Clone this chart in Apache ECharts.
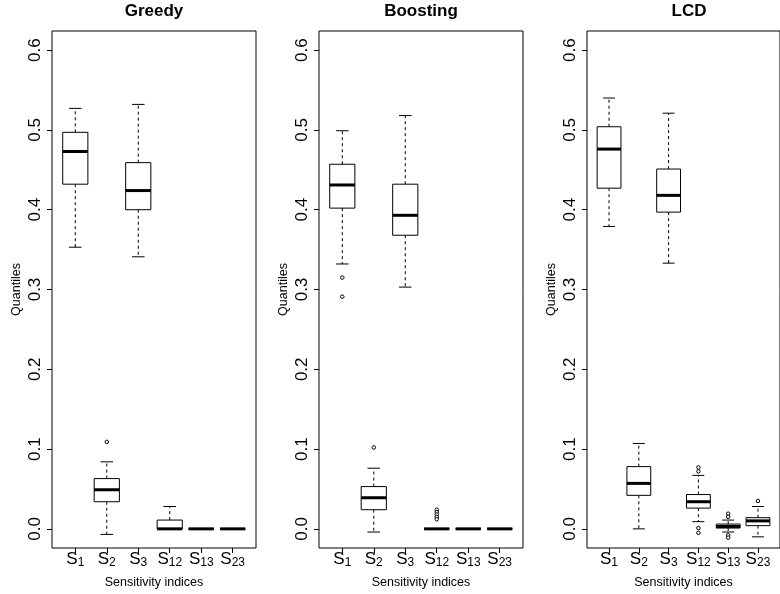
<!DOCTYPE html>
<html>
<head>
<meta charset="utf-8">
<script src="https://cdn.jsdelivr.net/npm/echarts@6/dist/echarts.min.js"></script>
<style>html,body{margin:0;padding:0;background:#fff}#c{width:780px;height:594px}</style>
</head>
<body>
<div id="c"></div>
<script>
// ---- data ----
const panelTitles = ['Greedy', 'Boosting', 'LCD'];
const categories = ['S1', 'S2', 'S3', 'S12', 'S13', 'S23'];
const subscripts = ['1', '2', '3', '12', '13', '23'];
const yTicks = [0, 0.1, 0.2, 0.3, 0.4, 0.5, 0.6];
// [lower whisker, Q1, median, Q3, upper whisker] per category
const greedyStats = [
  [0.353, 0.432, 0.473, 0.497, 0.527],
  [-0.007, 0.034, 0.049, 0.063, 0.084],
  [0.341, 0.400, 0.424, 0.459, 0.532],
  [0.000, 0.000, 0.000, 0.011, 0.028],
  [0.000, 0.000, 0.000, 0.000, 0.000],
  [0.000, 0.000, 0.000, 0.000, 0.000]
];
const boostingStats = [
  [0.332, 0.402, 0.431, 0.457, 0.499],
  [-0.004, 0.024, 0.039, 0.053, 0.076],
  [0.303, 0.368, 0.393, 0.432, 0.518],
  [0.000, 0.000, 0.000, 0.000, 0.000],
  [0.000, 0.000, 0.000, 0.000, 0.000],
  [0.000, 0.000, 0.000, 0.000, 0.000]
];
const lcdStats = [
  [0.379, 0.427, 0.476, 0.504, 0.540],
  [0.000, 0.042, 0.057, 0.078, 0.107],
  [0.333, 0.397, 0.418, 0.451, 0.521],
  [0.009, 0.026, 0.034, 0.043, 0.067],
  [-0.004, 0.001, 0.003, 0.006, 0.011],
  [-0.010, 0.004, 0.010, 0.014, 0.028]
];
// outliers: [category index, value]
const greedyOutliers = [[1, 0.109]];
const boostingOutliers = [[0, 0.315], [0, 0.291], [1, 0.102],
  [3, 0.024], [3, 0.021], [3, 0.018], [3, 0.015], [3, 0.012]];
const lcdOutliers = [[3, 0.077], [3, 0.072], [3, 0.001], [3, -0.005],
  [4, 0.019], [4, 0.015], [4, -0.008], [4, -0.011], [5, 0.035]];

// ---- chart ----
const FONT = 'Liberation Sans, Arial, Helvetica, sans-serif';
const allStats = [greedyStats, boostingStats, lcdStats];
const allOutliers = [greedyOutliers, boostingOutliers, lcdOutliers];
const gridLefts = [52, 319, 587];
const GW = 204, GTOP = 31, GH = 517;

const chart = echarts.init(document.getElementById('c'), null, {renderer: 'canvas'});

function renderBox(params, api) {
  const x = api.value(0);
  const low = api.value(1), q1 = api.value(2), med = api.value(3), q3 = api.value(4), high = api.value(5);
  const band = api.size([1, 0])[0];
  const bw = band * 0.8, hw = bw / 2, sw = bw * 0.25;
  const cx = api.coord([x, med])[0];
  const y = v => api.coord([x, v])[1];
  const yl = y(low), y1 = y(q1), ym = y(med), y3 = y(q3), yh = y(high);
  const stroke = {stroke: '#000', lineWidth: 1, fill: null};
  const dashed = {stroke: '#000', lineWidth: 1, lineDash: [3, 3], fill: null};
  return {
    type: 'group',
    children: [
      {type: 'line', shape: {x1: cx, y1: y3, x2: cx, y2: yh}, style: dashed},
      {type: 'line', shape: {x1: cx, y1: y1, x2: cx, y2: yl}, style: dashed},
      {type: 'line', shape: {x1: cx - sw, y1: yh, x2: cx + sw, y2: yh}, style: stroke},
      {type: 'line', shape: {x1: cx - sw, y1: yl, x2: cx + sw, y2: yl}, style: stroke},
      {type: 'rect', shape: {x: cx - hw, y: y3, width: bw, height: y1 - y3},
        style: {stroke: '#000', lineWidth: 1, fill: '#fff'}},
      {type: 'line', shape: {x1: cx - hw, y1: ym, x2: cx + hw, y2: ym},
        style: {stroke: '#000', lineWidth: 3, fill: null}}
    ]
  };
}

const grids = [], xAxes = [], yAxes = [], series = [], titles = [];
for (let p = 0; p < 3; p++) {
  grids.push({left: gridLefts[p], top: GTOP, width: GW, height: GH,
    show: true, borderColor: '#000', borderWidth: 1, backgroundColor: 'transparent'});
  titles.push({text: panelTitles[p], left: gridLefts[p] + GW / 2, top: 3, padding: 0,
    textAlign: 'center',
    textStyle: {fontFamily: FONT, fontSize: 17, fontWeight: 'bold', color: '#000'}});
  xAxes.push({
    type: 'value', gridIndex: p, min: 0.26, max: 6.74, position: 'bottom',
    name: 'Sensitivity indices', nameLocation: 'middle', nameGap: 28,
    nameTextStyle: {fontFamily: FONT, fontSize: 12.5, color: '#000'},
    axisLine: {show: false, onZero: false},
    splitLine: {show: false},
    axisTick: {show: true, length: 5, inside: false, customValues: categories.map((c, i) => i + 1),
      lineStyle: {color: '#000', width: 1}},
    axisLabel: {
      customValues: categories.map((c, i) => i + 1),
      margin: 1,
      formatter: v => '{s|S}{sub|' + subscripts[Math.round(v) - 1] + '}',
      rich: {
        s: {fontFamily: FONT, fontSize: 17, lineHeight: 20, color: '#000'},
        sub: {fontFamily: FONT, fontSize: 12, lineHeight: 12, padding: [6, 0, 0, 0], verticalAlign: 'bottom', color: '#000'}
      }
    }
  });
  yAxes.push({
    type: 'value', gridIndex: p, min: -0.024, max: 0.624,
    name: 'Quantiles', nameLocation: 'middle', nameGap: 29, nameRotate: 90,
    nameTextStyle: {fontFamily: FONT, fontSize: 12.5, color: '#000'},
    axisLine: {show: false, onZero: false},
    splitLine: {show: false},
    axisTick: {show: true, length: 5, inside: false, customValues: yTicks,
      lineStyle: {color: '#000', width: 1}},
    axisLabel: {customValues: yTicks, rotate: 90, margin: 8,
      fontFamily: FONT, fontSize: 17, color: '#000',
      formatter: v => v.toFixed(1)}
  });
  series.push({
    type: 'custom', xAxisIndex: p, yAxisIndex: p,
    renderItem: renderBox, clip: false,
    data: allStats[p].map((s, i) => [i + 1].concat(s)),
    encode: {x: 0, y: [1, 2, 3, 4, 5]},
    silent: true, z: 2
  });
  series.push({
    type: 'scatter', xAxisIndex: p, yAxisIndex: p,
    symbol: 'circle', symbolSize: 3.5,
    itemStyle: {color: '#fff', borderColor: '#000', borderWidth: 1, opacity: 1},
    data: allOutliers[p].map(o => [o[0] + 1, o[1]]),
    silent: true, z: 3
  });
}

chart.setOption({
  animation: false,
  backgroundColor: '#fff',
  title: titles,
  grid: grids,
  xAxis: xAxes,
  yAxis: yAxes,
  series: series
});
</script>
</body>
</html>
